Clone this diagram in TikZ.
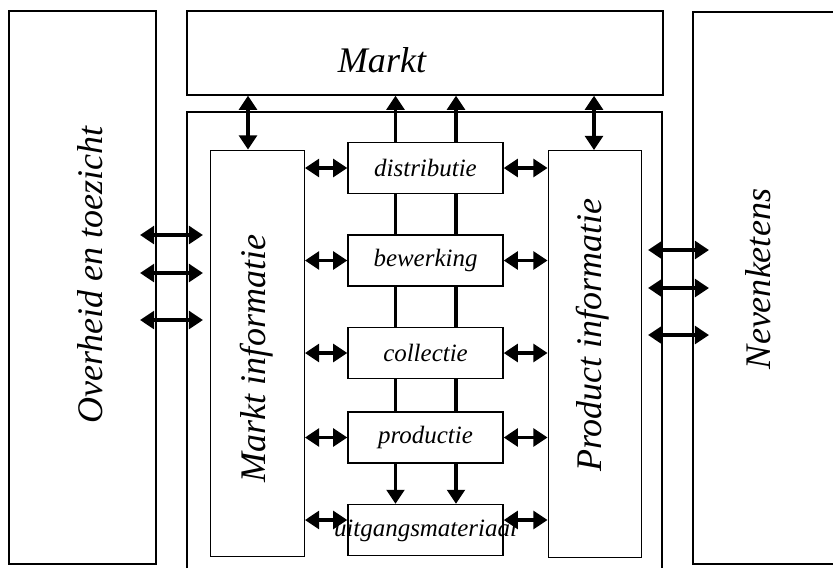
\documentclass[tikz,border=0pt]{standalone}
\usepackage{fontspec}
\setmainfont{Liberation Serif}
\usetikzlibrary{arrows.meta}

\begin{document}
\begin{tikzpicture}[y=-1cm,
  box/.style={draw,line width=0.8pt,inner sep=0pt},
  big/.style={inner sep=0pt,font=\fontsize{20.5}{24}\selectfont\itshape},
  small/.style={inner sep=0pt,font=\fontsize{14.2}{16}\selectfont\itshape},
  chain/.style={box,minimum width=3.1cm,minimum height=1.02cm},
  info/.style={box,minimum width=1.87cm,minimum height=8.13cm},
  dbl/.style={{Triangle[length=8pt,width=10pt]}-{Triangle[length=8pt,width=10pt]},line width=2pt},
  flowline/.style={line width=2pt},
  uparrow/.style={-{Triangle[length=8pt,width=10pt]},line width=2pt}]
\useasboundingbox (0,0) rectangle (16.66,11.36);

\node[box,minimum width=2.94cm,minimum height=11.06cm] (over) at (1.65,5.75) {};
\node[box,minimum width=9.52cm,minimum height=1.68cm]  (markt) at (8.5,1.06) {};
\node[info] (m_inf) at (5.15,7.07) {};
\node[info] (p_inf) at (11.9,7.08) {};

\node[chain,label={[small]center:distributie}]       (distr) at (8.51,3.36) {};
\node[chain,label={[small]center:bewerking}]         (bew)   at (8.51,5.21) {};
\node[chain,label={[small]center:collectie}]         (coll)  at (8.51,7.06) {};
\node[chain,label={[small]center:productie}]         (prod)  at (8.51,8.75) {};
\node[chain,label={[small]center:uitgangsmateriaal}] (uitg)  at (8.51,10.6) {};

% outer frame and side chain box, cut off by the page
\draw[line width=0.8pt] (3.74,11.36) |- (13.24,2.24) -- (13.24,11.36);
\draw[line width=0.8pt] (16.7,0.24) -| (13.86,11.28) -- (16.7,11.28);

\node[big,rotate=90] (t_over)  at (1.8,5.5)   {Overheid en toezicht};
\node[big]           (t_markt) at (7.64,1.21) {Markt};
\node[big,rotate=90] (t_minf)  at (5.14,7.17) {Markt informatie};
\node[big,rotate=90] (t_pinf)  at (11.86,6.7) {Product informatie};
\node[big,rotate=90] (t_nev)   at (15.16,5.58) {Nevenketens};

\coordinate (c_l) at (7.91,0);
\coordinate (c_r) at (9.12,0);
\coordinate (a_m) at (4.96,0);
\coordinate (a_p) at (11.88,0);

\coordinate (ol_1) at (2.8,4.7);  \coordinate (or_1) at (4.06,4.7);
\coordinate (ol_2) at (2.8,5.46); \coordinate (or_2) at (4.06,5.46);
\coordinate (ol_3) at (2.8,6.4);  \coordinate (or_3) at (4.06,6.4);
\coordinate (nl_1) at (12.96,5.0);  \coordinate (nr_1) at (14.18,5.0);
\coordinate (nl_2) at (12.96,5.76); \coordinate (nr_2) at (14.18,5.76);
\coordinate (nl_3) at (12.96,6.7);  \coordinate (nr_3) at (14.18,6.7);

\path (distr.north -| c_l) edge[uparrow] (markt.south -| c_l)
      (distr.north -| c_r) edge[uparrow] (markt.south -| c_r)
      (prod.south -| c_l)  edge[uparrow] (uitg.north -| c_l)
      (prod.south -| c_r)  edge[uparrow] (uitg.north -| c_r)
      (distr.south -| c_l) edge[flowline] (bew.north -| c_l)
      (distr.south -| c_r) edge[flowline] (bew.north -| c_r)
      (bew.south -| c_l)   edge[flowline] (coll.north -| c_l)
      (bew.south -| c_r)   edge[flowline] (coll.north -| c_r)
      (coll.south -| c_l)  edge[flowline] (prod.north -| c_l)
      (coll.south -| c_r)  edge[flowline] (prod.north -| c_r);

\path[dbl]  (markt.south -| a_m) edge (m_inf.north -| a_m)
            (markt.south -| a_p) edge (p_inf.north -| a_p)
            (distr.west -| m_inf.east) edge (distr.west)
            (bew.west -| m_inf.east)   edge (bew.west)
            (coll.west -| m_inf.east)  edge (coll.west)
            (prod.west -| m_inf.east)  edge (prod.west)
            ([yshift=0.2cm]uitg.west -| m_inf.east) edge ([yshift=0.2cm]uitg.west)
            (distr.east) edge (distr.east -| p_inf.west)
            (bew.east)   edge (bew.east -| p_inf.west)
            (coll.east)  edge (coll.east -| p_inf.west)
            (prod.east)  edge (prod.east -| p_inf.west)
            ([yshift=0.2cm]uitg.east) edge ([yshift=0.2cm]uitg.east -| p_inf.west)
            (ol_1) edge (or_1)
            (ol_2) edge (or_2)
            (ol_3) edge (or_3)
            (nl_1) edge (nr_1)
            (nl_2) edge (nr_2)
            (nl_3) edge (nr_3);
\end{tikzpicture}
\end{document}
